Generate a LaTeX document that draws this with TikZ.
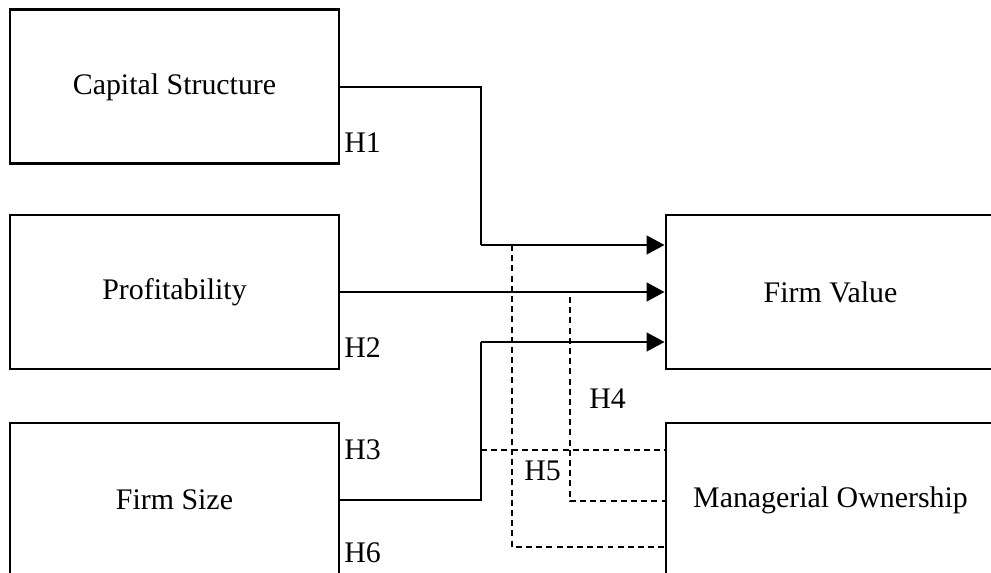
\documentclass[tikz,border=0pt]{standalone}
\usepackage{fontspec}
\setmainfont{Liberation Serif}
\usepackage{tikz}
\usetikzlibrary{arrows,arrows.meta,shapes}

\begin{document}
\begin{tikzpicture}[boxnode/.style={draw, line width=1.7pt, minimum width=6.58cm, minimum height=3.08cm, inner sep=0pt, font=\fontsize{17}{20}\selectfont},
    link/.style={line width=0.85pt},
    hlink/.style={line width=0.85pt, -{Triangle[length=0.36cm,width=0.38cm]}},
    dlink/.style={line width=0.85pt, dash pattern=on 3.4pt off 2.4pt},
    hlabel/.style={anchor=west, inner sep=0pt, font=\fontsize{17}{20}\selectfont}]

    \useasboundingbox (0,0) rectangle (19.82,11.46);

    \node[boxnode](cs) at (3.49, 9.72) {Capital Structure};
    \node[boxnode](pr) at (3.49, 5.62) {Profitability};
    \node[boxnode](fs) at (3.49, 1.46) {Firm Size};
    \node[boxnode](fv) at (16.61, 5.62) {Firm Value};
    \node[boxnode](mo) at (16.61, 1.46) {Managerial Ownership};

    %\foreach \h in {1,...,6}
    \node[hlabel](h1) at (6.88, 8.60) {H1};
    \node[hlabel](h2) at (6.88, 4.50) {H2};
    \node[hlabel](h3) at (6.88, 2.46) {H3};
    \node[hlabel](h6) at (6.88, 0.40) {H6};
    \node[hlabel](h4) at (11.78, 3.48) {H4};
    \node[hlabel](h5) at (10.48, 2.04) {H5};

    \coordinate (k1) at (9.62, 6.56);
    \coordinate (k3) at (9.62, 4.62);
    \draw[link] (cs.east) -| (k1);
    \draw[hlink] (k1) -- (k1 -| fv.west);
    \draw[hlink] (pr.east) -- (pr.east -| fv.west);
    \draw[link] (fs.east) -| (k3);
    \draw[hlink] (k3) -- (k3 -| fv.west);

    \coordinate (d1) at (10.24, 6.56);
    \coordinate (d1b) at (10.24, 0.52);
    \coordinate (d2) at (11.40, 5.52);
    \coordinate (d2b) at (11.40, 1.44);
    \coordinate (d3) at (9.62, 2.46);
    \draw[dlink] (d1) -- (d1b) -- (d1b -| mo.west);
    \draw[dlink] (d2) -- (d2b) -- (d2b -| mo.west);
    \draw[dlink] (d3) -- (d3 -| mo.west);

\end{tikzpicture}
\end{document}
